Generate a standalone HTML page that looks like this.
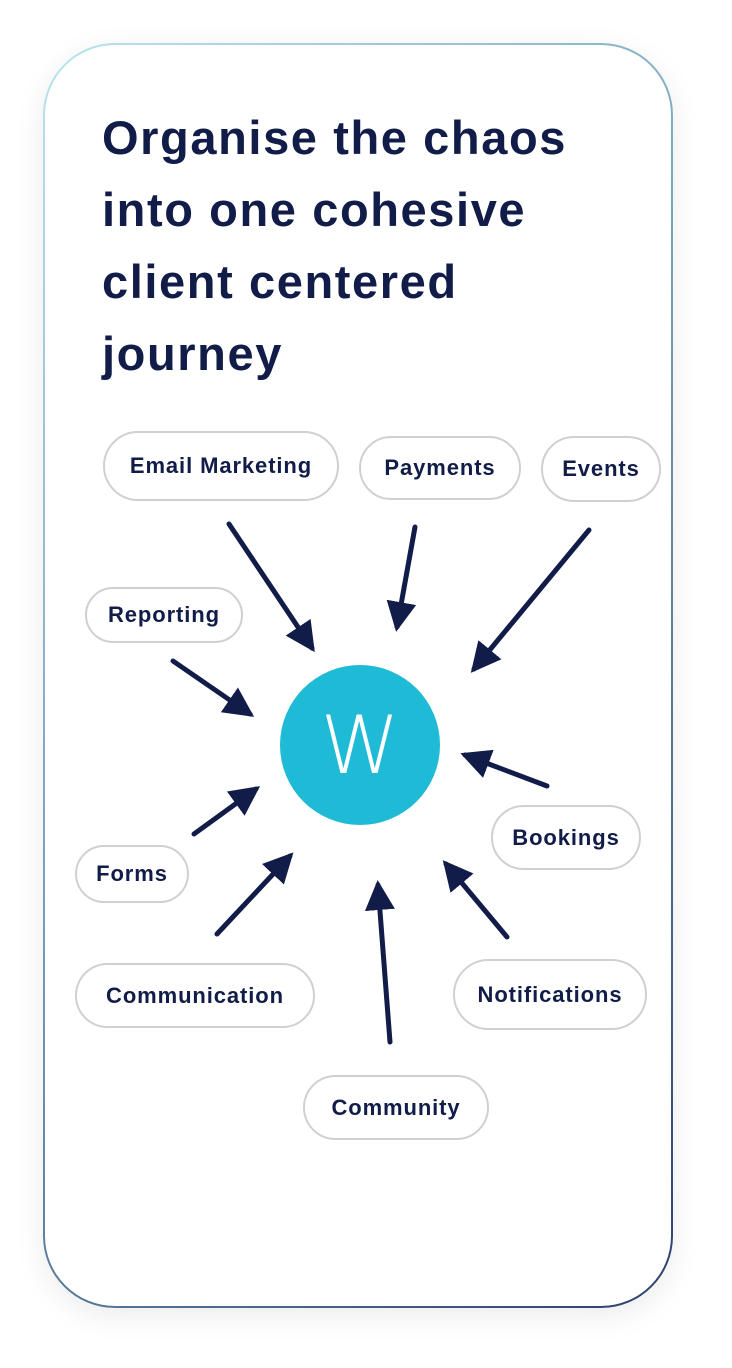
<!DOCTYPE html>
<html><head><meta charset="utf-8"><style>
html,body{margin:0;padding:0;background:#fff;}
body{width:732px;height:1368px;position:relative;overflow:hidden;font-family:"Liberation Sans",sans-serif;}
.card{position:absolute;left:43px;top:43px;width:630px;height:1265px;border-radius:72px;
background:linear-gradient(135deg,#b8e6ee,#6f98b0 50%,#2e3f6e);padding:2px;box-sizing:border-box;
box-shadow:0 8px 30px rgba(0,0,0,0.08);}
.inner{width:100%;height:100%;background:#fff;border-radius:70px;}
h1{position:absolute;left:102px;top:102px;margin:0;font-size:47px;line-height:72px;font-weight:bold;color:#111c48;letter-spacing:1.6px;white-space:nowrap;}
.p{position:absolute;box-sizing:border-box;border:2px solid #d0d0d0;border-radius:40px;background:#fff;
display:flex;align-items:center;justify-content:center;font-size:22px;font-weight:bold;color:#111c48;letter-spacing:0.9px;white-space:nowrap;}
.c{position:absolute;left:280px;top:665px;width:160px;height:160px;border-radius:50%;background:#1fbad6;
color:#fff;font-family:"DejaVu Sans",sans-serif;font-weight:300;font-size:80px;display:flex;align-items:center;justify-content:center;}
svg{position:absolute;left:0;top:0;}
</style></head><body>
<div class="card"><div class="inner"></div></div>
<h1>Organise the chaos<br>into one cohesive<br>client centered<br>journey</h1>
<div class="p" style="left:103px;top:431px;width:236px;height:70px">Email Marketing</div>
<div class="p" style="left:359px;top:436px;width:162px;height:64px">Payments</div>
<div class="p" style="left:541px;top:436px;width:120px;height:66px">Events</div>
<div class="p" style="left:85px;top:587px;width:158px;height:56px">Reporting</div>
<div class="p" style="left:491px;top:805px;width:150px;height:65px">Bookings</div>
<div class="p" style="left:75px;top:845px;width:114px;height:58px">Forms</div>
<div class="p" style="left:75px;top:963px;width:240px;height:65px">Communication</div>
<div class="p" style="left:453px;top:959px;width:194px;height:71px">Notifications</div>
<div class="p" style="left:303px;top:1075px;width:186px;height:65px">Community</div>
<div class="c">W</div>
<svg width="732" height="1368">
<defs><marker id="a" markerWidth="6" markerHeight="6" refX="5" refY="3" orient="auto" markerUnits="strokeWidth">
<path d="M0,0 L6,3 L0,6 z" fill="#111c48"/></marker></defs>
<g stroke="#111c48" stroke-width="5" stroke-linecap="round" marker-end="url(#a)">
<line x1="229" y1="524" x2="312" y2="648"/>
<line x1="415" y1="527" x2="397" y2="627"/>
<line x1="589" y1="530" x2="474" y2="669"/>
<line x1="173" y1="661" x2="250" y2="714"/>
<line x1="547" y1="786" x2="465" y2="755"/>
<line x1="194" y1="834" x2="256" y2="789"/>
<line x1="217" y1="934" x2="290" y2="856"/>
<line x1="390" y1="1042" x2="378" y2="885"/>
<line x1="507" y1="937" x2="446" y2="864"/>
</g></svg>
</body></html>
